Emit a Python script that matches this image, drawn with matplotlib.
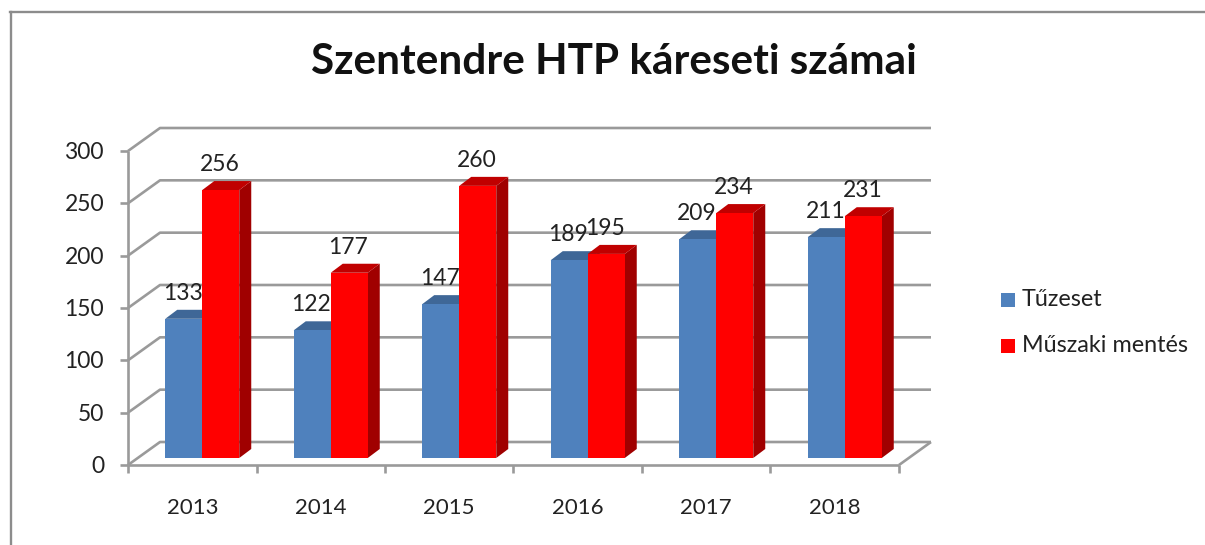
import matplotlib
matplotlib.use("Agg")
import matplotlib.pyplot as plt
from matplotlib.patches import Polygon, Rectangle

years = ["2013", "2014", "2015", "2016", "2017", "2018"]
tuzeset = [133, 122, 147, 189, 209, 211]
muszaki = [256, 177, 260, 195, 234, 231]
yticks = [0, 50, 100, 150, 200, 250, 300]
series_names = ["Tűzeset", "Műszaki mentés"]
title = "Szentendre HTP káreseti számai"

W, H = 1205, 545
plt.rcParams["font.family"] = ["Lato", "DejaVu Sans"]
fig = plt.figure(figsize=(W / 100, H / 100), dpi=100)

# plot plane geometry in pixels
X0, X1, Y0, Y300 = 128.0, 899.0, 465.0, 151.0
ax = fig.add_axes([X0 / W, 1 - Y0 / H, (X1 - X0) / W, (Y0 - Y300) / H])
ax.set_xlim(0, 6)
ax.set_ylim(0, 300)
ax.patch.set_alpha(0)
ax.axis("off")

px_x = 6 / (X1 - X0)
px_y = 300 / (Y0 - Y300)
wall_dx, wall_dy = 32 * px_x, 23 * px_y
off_x, off_y = 10 * px_x, 7 * px_y
bar_w = 37 * px_x
top_dx, top_dy = 12 * px_x, 9 * px_y

GRID = "#9a9a9a"
line = dict(color=GRID, lw=1.9, clip_on=False, solid_capstyle="butt", zorder=1)
for v in yticks:
    ax.plot([0, wall_dx, 6 + wall_dx], [v, v + wall_dy, v + wall_dy], **line)
ax.plot([6, 6 + wall_dx], [0, wall_dy], **line)
ax.plot([0, 0], [0, 300], **line)
ax.plot([0, 6], [0, 0], **line)

for v in yticks:
    ax.plot([-8 * px_x, 0], [v, v], **line)
    ax.text(-24 * px_x, v - 1.5 * px_y, str(v), ha="right", va="center", fontsize=16.5,
            color="#222222", clip_on=False)
for i in range(7):
    ax.plot([i, i], [0, -8 * px_y], **line)
for i, y in enumerate(years):
    ax.text(i + 0.5, -43 * px_y, y, ha="center", va="center", fontsize=16,
            color="#222222")


def bar3d(x, v, front, top, side, z):
    y0, y1 = off_y, off_y + v
    ax.add_patch(Polygon([(x + bar_w, y0), (x + bar_w + top_dx, y0 + top_dy),
                          (x + bar_w + top_dx, y1 + top_dy), (x + bar_w, y1)],
                         fc=side, ec="none", zorder=z, clip_on=False))
    ax.add_patch(Polygon([(x, y1), (x + top_dx, y1 + top_dy),
                          (x + bar_w + top_dx, y1 + top_dy), (x + bar_w, y1)],
                         fc=top, ec="none", zorder=z, clip_on=False))
    ax.bar(x, v, width=bar_w, bottom=y0, align="edge", color=front, zorder=z + 0.1,
           clip_on=False)


BLUE, RED = "#4F81BD", "#FF0000"
for i in range(len(years)):
    xb = i + off_x + 0.5 - bar_w
    xr = xb + bar_w
    bar3d(xb, tuzeset[i], BLUE, "#3F6797", "#3A5F8C", 2 + i * 0.01)
    bar3d(xr, muszaki[i], RED, "#C00000", "#A00000", 3 + i * 0.01)
    for x, v in ((xb, tuzeset[i]), (xr, muszaki[i])):
        ax.annotate(str(v), (x + bar_w / 2, off_y + v), xytext=(-0.7, 18.5),
                    textcoords="offset points", ha="center", va="center",
                    fontsize=16.5, color="#222222", zorder=5)

# chart frame
fig.add_artist(plt.Line2D([10.5 / W, 10.5 / W], [0, 1 - 12 / H], color="#8c8c8c", lw=1.7))
fig.add_artist(plt.Line2D([10 / W, 1], [1 - 12 / H, 1 - 12 / H], color="#8c8c8c", lw=1.7))

fig.text(613.5 / W, 1 - 62 / H, title, ha="center", va="center", fontsize=30.4,
         fontweight="bold", color="#111111")

# legend
for y, c, name in ((300, BLUE, series_names[0]), (346, RED, series_names[1])):
    fig.add_artist(Rectangle((1001 / W, 1 - (y + 7) / H), 14 / W, 14 / H, fc=c, ec="none",
                             transform=fig.transFigure))
    fig.text(1022 / W, 1 - y / H, name, ha="left", va="center", fontsize=16.8,
             color="#222222")

fig.savefig("out.png", dpi=100, facecolor="white")
